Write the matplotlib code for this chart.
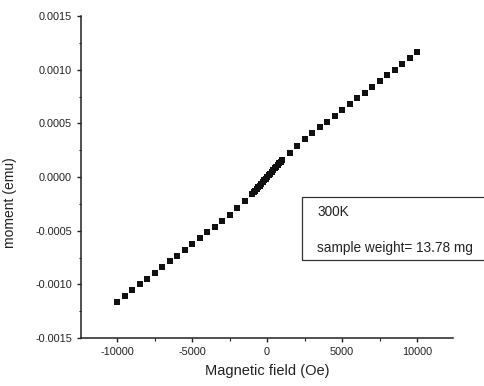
import matplotlib
matplotlib.use("Agg")
import matplotlib.pyplot as plt
from matplotlib.ticker import FormatStrFormatter, MultipleLocator
from matplotlib.patches import Rectangle

plt.rcParams["font.family"] = ["Liberation Sans", "DejaVu Sans"]
plt.rcParams["axes.unicode_minus"] = False

# ---- data read off the scanned M(H) curve at 300 K ----
# coarse sweep, negative branch (Oe, emu)
field_neg = [-10000, -9500, -9000, -8500, -8000, -7500, -7000, -6500, -6000,
             -5500, -5000, -4500, -4000, -3500, -3000, -2500, -2000, -1500]
moment_neg = [-0.001160, -0.001107, -0.001053, -0.000999, -0.000946, -0.000893,
              -0.000839, -0.000786, -0.000732, -0.000679, -0.000625, -0.000571,
              -0.000517, -0.000462, -0.000407, -0.000350, -0.000290, -0.000227]

# fine sweep around zero field
field_low = [-1000, -900, -800, -700, -600, -500, -400, -300, -200, -100, 0,
             100, 200, 300, 400, 500, 600, 700, 800, 900, 1000]
moment_low = [-0.0001569, -0.0001422, -0.0001272, -0.0001119, -0.0000965,
              -0.0000808, -0.0000648, -0.0000488, -0.0000326, -0.0000163, 0.0,
              0.0000163, 0.0000326, 0.0000488, 0.0000648, 0.0000808, 0.0000965,
              0.0001119, 0.0001272, 0.0001422, 0.0001569]

# coarse sweep, positive branch
field_pos = [1500, 2000, 2500, 3000, 3500, 4000, 4500, 5000, 5500,
             6000, 6500, 7000, 7500, 8000, 8500, 9000, 9500, 10000]
moment_pos = [0.000227, 0.000290, 0.000350, 0.000407, 0.000462, 0.000517,
              0.000571, 0.000625, 0.000679, 0.000732, 0.000786, 0.000839,
              0.000893, 0.000946, 0.000999, 0.001053, 0.001107, 0.001160]

temperature_label = "300K"
weight_label = "sample weight= 13.78 mg"

fig = plt.figure(figsize=(4.84, 3.86), dpi=100)
ax = fig.add_axes([81 / 484, 48 / 386, 372 / 484, 322 / 386])

for xs, ys in [(field_neg, moment_neg), (field_low, moment_low), (field_pos, moment_pos)]:
    ax.plot(xs, ys, linestyle="none", marker="s", markersize=3.8,
            color="#111111", markeredgewidth=0)

ax.set_xlim(-12400, 12400)
ax.set_ylim(-0.0015, 0.0015)

ax.xaxis.set_major_locator(MultipleLocator(5000))
ax.xaxis.set_minor_locator(MultipleLocator(2500))
ax.yaxis.set_major_locator(MultipleLocator(0.0005))
ax.yaxis.set_minor_locator(MultipleLocator(0.00025))
ax.yaxis.set_major_formatter(FormatStrFormatter("%.4f"))

for side in ["top", "right"]:
    ax.spines[side].set_visible(False)
for side in ["left", "bottom"]:
    ax.spines[side].set_linewidth(1.1)
    ax.spines[side].set_color("#222222")

ax.tick_params(which="major", direction="out", length=3, width=1,
               labelsize=7.8, pad=3.5, colors="#222222")
ax.tick_params(which="minor", direction="out", length=1.8, width=0.8,
               colors="#222222")

ax.set_xlabel("Magnetic field (Oe)", fontsize=10.5, color="#222222", labelpad=5)
ax.set_ylabel("moment (emu)", fontsize=10, color="#222222", va="center")
ax.yaxis.set_label_coords(-0.19, 0.42)

# annotation box, runs off the right edge of the page
box = Rectangle((302 / 484, 1 - 260 / 386), 200 / 484, 63 / 386,
                transform=fig.transFigure, fill=False, edgecolor="#333333",
                linewidth=0.9, clip_on=False)
fig.patches.append(box)
fig.text(317 / 484, 1 - 212 / 386, temperature_label, fontsize=9.8,
         va="center", ha="left", color="#222222")
fig.text(317 / 484, 1 - 248 / 386, weight_label, fontsize=9.8,
         va="center", ha="left", color="#222222")

fig.savefig("out.png", dpi=100)
